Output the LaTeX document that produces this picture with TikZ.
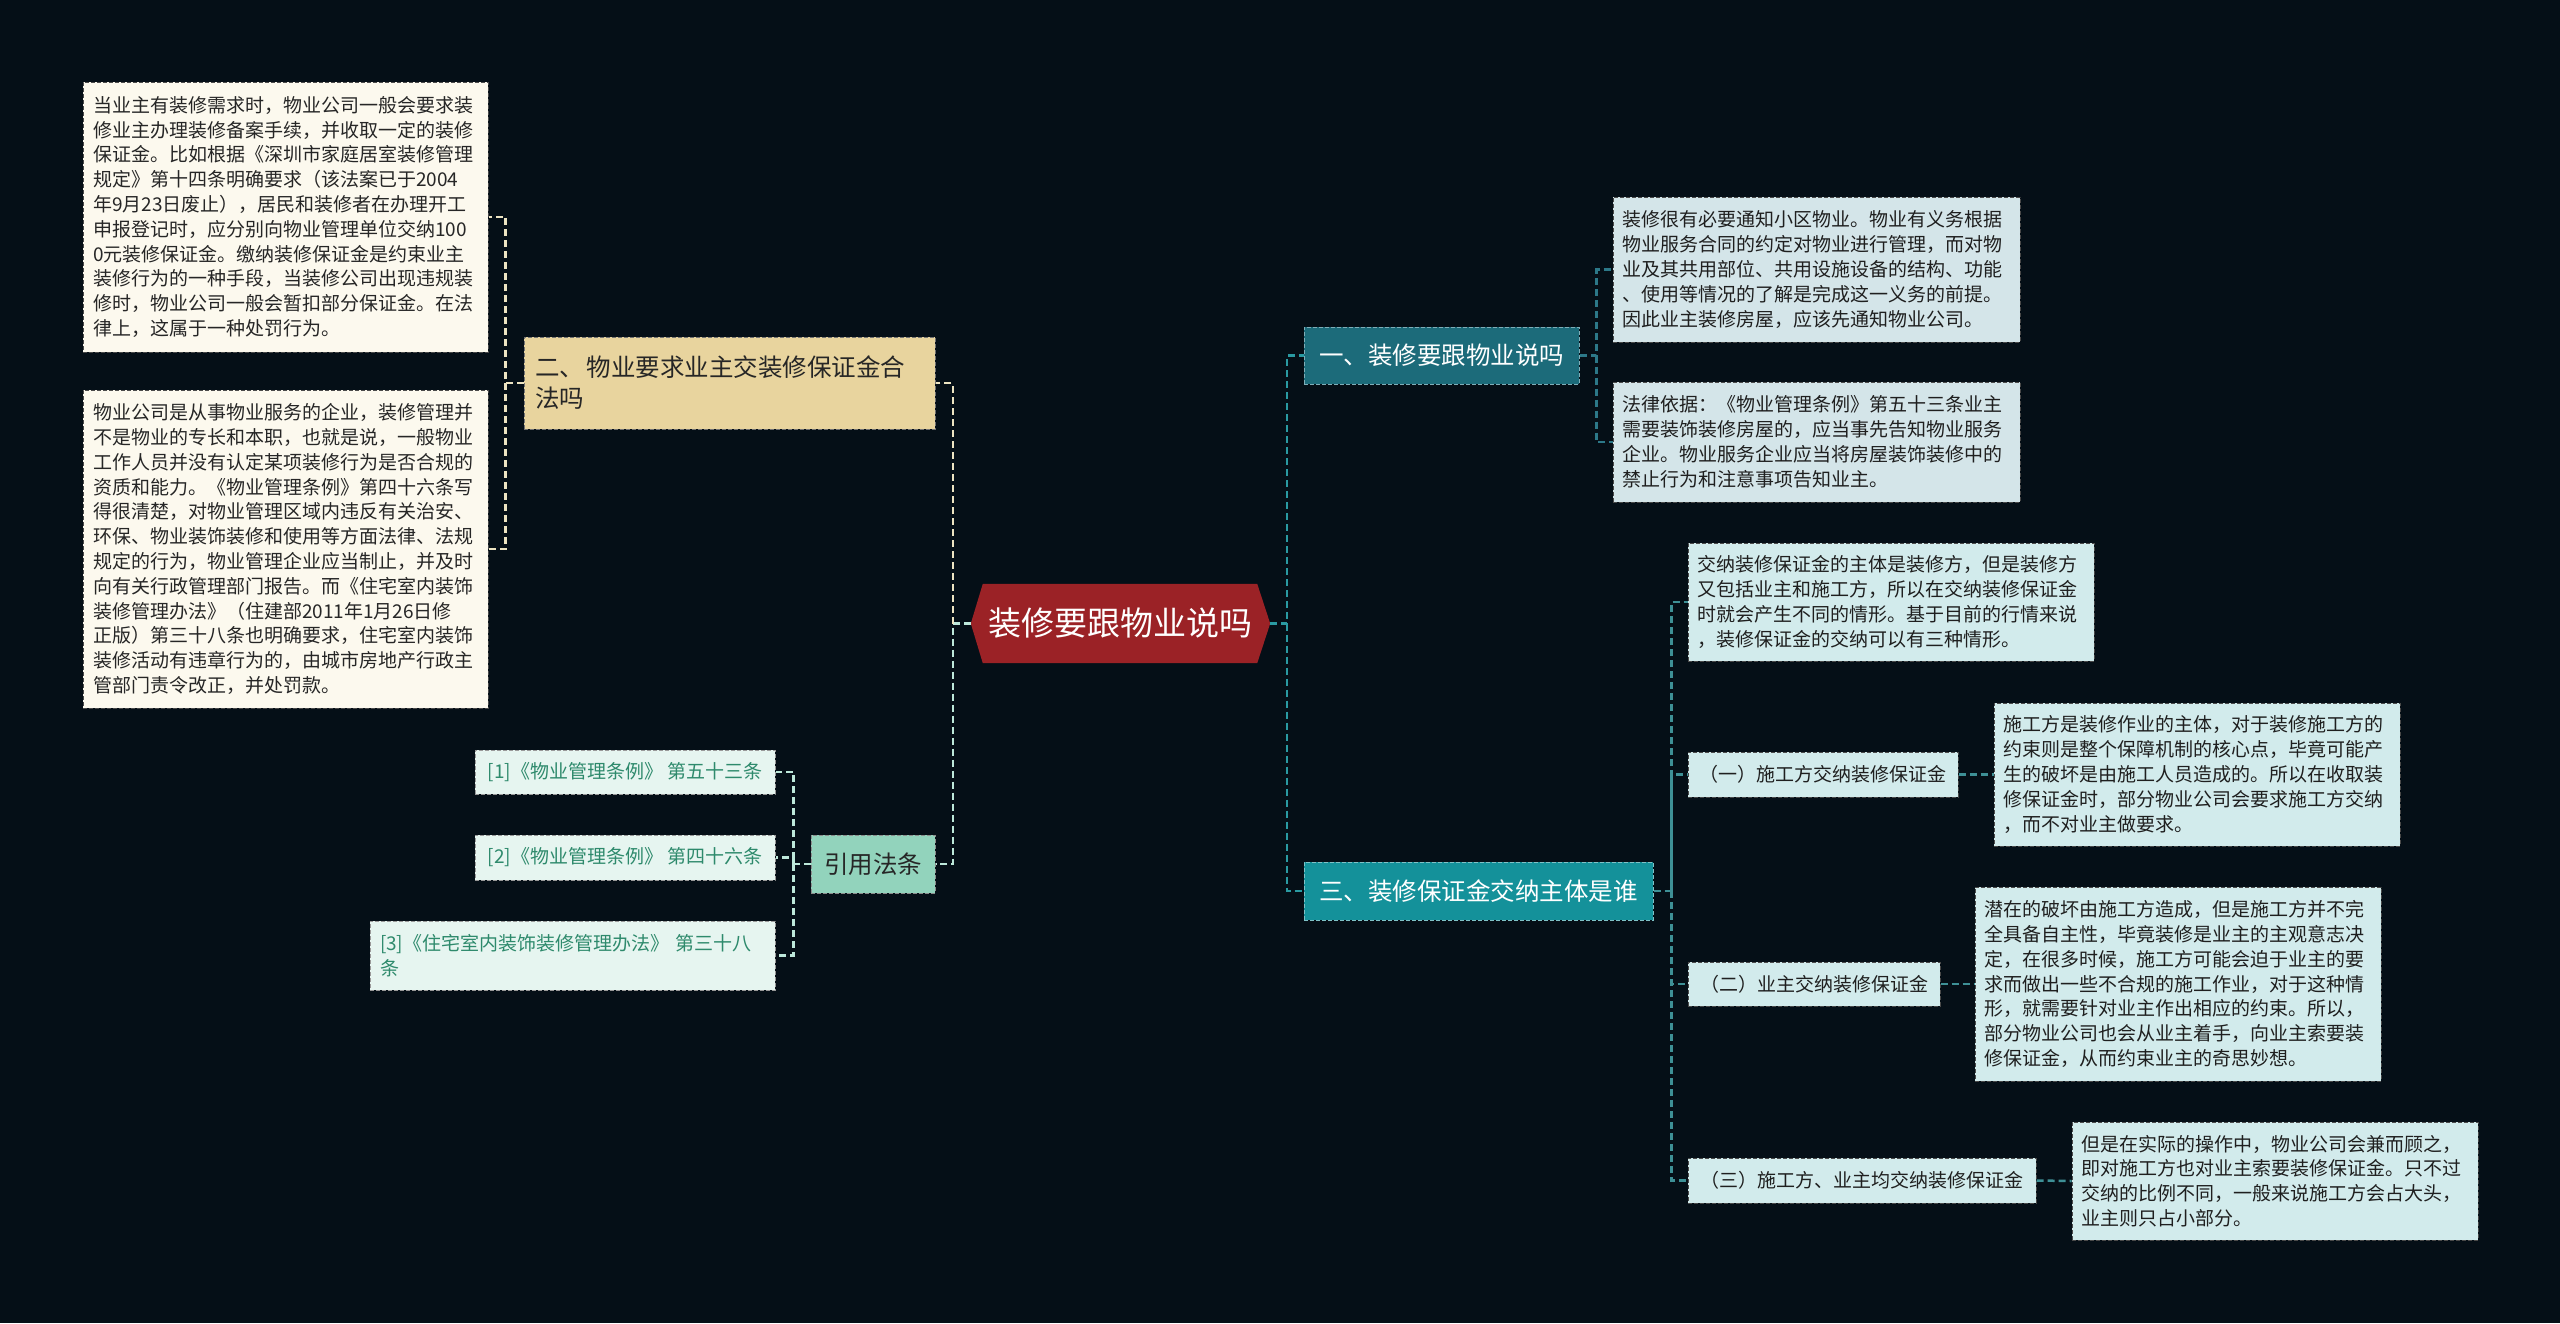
\documentclass[tikz,border=0pt]{standalone}
\usepackage{fontspec}
\setmainfont{Noto Sans CJK SC}
\usetikzlibrary{calc}
\pgfdeclarelayer{bg}
\pgfsetlayers{bg,main}
\definecolor{bgc}{HTML}{050F17}
\definecolor{ctrred}{HTML}{9B2226}
\definecolor{lfill}{HTML}{FCF9EE}
\definecolor{twofill}{HTML}{E8D49E}
\definecolor{yyfill}{HTML}{92D3BC}
\definecolor{reffill}{HTML}{E6F5F0}
\definecolor{reftext}{HTML}{2E8A6C}
\definecolor{onefill}{HTML}{1C6B7A}
\definecolor{onelf}{HTML}{D4E5E9}
\definecolor{threefill}{HTML}{14919A}
\definecolor{threelf}{HTML}{D2EBEC}
\definecolor{creamc}{HTML}{EDE4C2}
\definecolor{mintc}{HTML}{BDE8DA}
\definecolor{tealA}{HTML}{2C7888}
\definecolor{tealB}{HTML}{2A9AA2}
\definecolor{tealC}{HTML}{3E9096}
\definecolor{darktext}{HTML}{262626}
\definecolor{bord}{HTML}{4A4A4A}
\tikzset{
  conn/.style={line width=2.5pt, dash pattern=on 7pt off 4pt},
  boxbase/.style={rectangle, dash pattern=on 4pt off 2pt, line width=1pt, inner ysep=0pt, anchor=center},
  leafL/.style={boxbase, draw=bord, fill=lfill, text=darktext, align=left, inner xsep=10pt,
    font=\fontsize{19}{24.8}\selectfont},
  leafR/.style={boxbase, draw=bord, fill=onelf, text=black!88, align=left, inner xsep=9pt,
    font=\fontsize{19}{24.8}\selectfont},
  leafT/.style={leafR, fill=threelf},
  subbox/.style={boxbase, draw=bord, fill=threelf, text=black!88, inner xsep=8pt,
    font=\fontsize{19}{24}\selectfont},
  refbox/.style={boxbase, draw=black!40, fill=reffill, text=reftext, align=left, inner xsep=11pt,
    font=\fontsize{19}{24.8}\selectfont},
  topic/.style={boxbase, font=\fontsize{24.5}{31}\selectfont},
  ctrnode/.style={rectangle, inner sep=0pt, text=white, font=\fontsize{33}{38}\selectfont}
}
\begin{document}
\begin{tikzpicture}[x=1pt,y=-1pt]
\begin{pgfonlayer}{bg}
\fill[bgc] (0,0) rectangle (2560,1323);
\end{pgfonlayer}
\useasboundingbox (0,0) rectangle (2560,1323);

% centre
\node[ctrnode, minimum width=299pt, minimum height=79pt] (c) at (1120.5,623.5) {装修要跟物业说吗};
\begin{pgfonlayer}{bg}
\fill[ctrred] ($(c.north west)+(12,0)$) -- ($(c.north east)+(-13,0)$) -- (c.east)
  -- ($(c.south east)+(-13,0)$) -- ($(c.south west)+(12,0)$) -- (c.west) -- cycle;
\end{pgfonlayer}

% left-upper branch
\node[topic, draw=black!55, fill=twofill, text=darktext, align=left, inner xsep=11pt,
  text width=389pt, minimum height=92pt] (n2) at (729.5,383)
  {二、\hspace{3pt}物业要求业主交装修保证金合\\法吗};
\node[leafL, text width=385pt, minimum height=270pt] (l1) at (285.5,217)
  {当业主有装修需求时，物业公司一般会要求装\\
   修业主办理装修备案手续，并收取一定的装修\\
   保证金。比如根据《深圳市家庭居室装修管理\\
   规定》第十四条明确要求（该法案已于2004\\
   年9月23日废止），居民和装修者在办理开工\\
   申报登记时，应分别向物业管理单位交纳100\\
   0元装修保证金。缴纳装修保证金是约束业主\\
   装修行为的一种手段，当装修公司出现违规装\\
   修时，物业公司一般会暂扣部分保证金。在法\\
   律上，这属于一种处罚行为。};
\node[leafL, text width=385pt, minimum height=318pt] (l2) at (285.5,549)
  {物业公司是从事物业服务的企业，装修管理并\\
   不是物业的专长和本职，也就是说，一般物业\\
   工作人员并没有认定某项装修行为是否合规的\\
   资质和能力。《物业管理条例》第四十六条写\\
   得很清楚，对物业管理区域内违反有关治安、\\
   环保、物业装饰装修和使用等方面法律、法规\\
   规定的行为，物业管理企业应当制止，并及时\\
   向有关行政管理部门报告。而《住宅室内装饰\\
   装修管理办法》（住建部2011年1月26日修\\
   正版）第三十八条也明确要求，住宅室内装饰\\
   装修活动有违章行为的，由城市房地产行政主\\
   管部门责令改正，并处罚款。};

% left-lower branch
\node[topic, draw=black!45, fill=yyfill, text=darktext, minimum width=124pt, minimum height=58pt]
  (yy) at (873,864) {引用法条};
\node[refbox, minimum width=300pt, minimum height=44pt] (r1) at (625,772)
  {[1]《物业管理条例》 第五十三条};
\node[refbox, minimum width=300pt, minimum height=45pt] (r2) at (625,857.5)
  {[2]《物业管理条例》 第四十六条};
\node[refbox, inner xsep=10pt, text width=385pt, minimum height=69pt] (r3) at (572.5,955.5)
  {[3]《住宅室内装饰装修管理办法》 第三十八\\条};

% right-upper branch
\node[topic, draw=tealA!60!white, fill=onefill, text=white, minimum width=275pt, minimum height=57pt]
  (n1) at (1441.5,355.5) {一、装修要跟物业说吗};
\node[leafR, text width=389pt, minimum height=145pt] (l1a) at (1816.5,269.5)
  {装修很有必要通知小区物业。物业有义务根据\\
   物业服务合同的约定对物业进行管理，而对物\\
   业及其共用部位、共用设施设备的结构、功能\\
   、使用等情况的了解是完成这一义务的前提。\\
   因此业主装修房屋，应该先通知物业公司。};
\node[leafR, text width=389pt, minimum height=120pt] (l1b) at (1816.5,442)
  {法律依据：《物业管理条例》第五十三条业主\\
   需要装饰装修房屋的，应当事先告知物业服务\\
   企业。物业服务企业应当将房屋装饰装修中的\\
   禁止行为和注意事项告知业主。};

% right-lower branch
\node[topic, draw=tealB!60!white, fill=threefill, text=white, minimum width=349pt, minimum height=58pt]
  (n3) at (1478.5,891) {三、装修保证金交纳主体是谁};
\node[leafT, text width=388pt, minimum height=118pt] (l3a) at (1891,602)
  {交纳装修保证金的主体是装修方，但是装修方\\
   又包括业主和施工方，所以在交纳装修保证金\\
   时就会产生不同的情形。基于目前的行情来说\\
   ，装修保证金的交纳可以有三种情形。};
\node[subbox, minimum width=270pt, minimum height=45pt] (s1) at (1823,774.5)
  {（一）施工方交纳装修保证金};
\node[leafT, text width=388pt, minimum height=143pt] (s1l) at (2197,774.5)
  {施工方是装修作业的主体，对于装修施工方的\\
   约束则是整个保障机制的核心点，毕竟可能产\\
   生的破坏是由施工人员造成的。所以在收取装\\
   修保证金时，部分物业公司会要求施工方交纳\\
   ，而不对业主做要求。};
\node[subbox, minimum width=252pt, minimum height=44pt] (s2) at (1814,984)
  {（二）业主交纳装修保证金};
\node[leafT, text width=388pt, minimum height=194pt] (s2l) at (2178,984)
  {潜在的破坏由施工方造成，但是施工方并不完\\
   全具备自主性，毕竟装修是业主的主观意志决\\
   定，在很多时候，施工方可能会迫于业主的要\\
   求而做出一些不合规的施工作业，对于这种情\\
   形，就需要针对业主作出相应的约束。所以，\\
   部分物业公司也会从业主着手，向业主索要装\\
   修保证金，从而约束业主的奇思妙想。};
\node[subbox, minimum width=348pt, minimum height=45pt] (s3) at (1862,1180.5)
  {（三）施工方、业主均交纳装修保证金};
\node[leafT, text width=388pt, minimum height=118pt] (s3l) at (2275,1181)
  {但是在实际的操作中，物业公司会兼而顾之，\\
   即对施工方也对业主索要装修保证金。只不过\\
   交纳的比例不同，一般来说施工方会占大头，\\
   业主则只占小部分。};

% connectors
\draw[conn, mintc] (c.west) -- ++(-18,0) |- (yy.east);
\draw[conn, creamc] (c.west) ++(-18,0) |- (n2.east);
\draw[conn, creamc] (n2.west) -- ++(-18,0) |- (l1.east);
\draw[conn, creamc] (n2.west) ++(-18,0) |- (l2.east);
\draw[conn, mintc] (yy.west) -- ++(-17,0) |- (r1.east);
\draw[conn, mintc] (yy.west) ++(-17,0) |- (r2.east);
\draw[conn, mintc] (yy.west) ++(-17,0) |- (r3.east);

\draw[conn, tealB] (c.east) -- ++(17,0) |- (n1.west);
\draw[conn, tealB] (c.east) ++(17,0) |- (n3.west);
\draw[conn, tealA] (n1.east) -- ++(17,0) |- (l1a.west);
\draw[conn, tealA] (n1.east) ++(17,0) |- (l1b.west);
\draw[conn, tealC] (n3.east) -- ++(18,0) |- (l3a.west);
\draw[conn, tealC] (n3.east) ++(18,0) |- (s1.west);
\draw[conn, tealC] (n3.east) ++(18,0) |- (s2.west);
\draw[conn, tealC] (n3.east) ++(18,0) |- (s3.west);
\draw[conn, tealC] (s1.east) -- (s1l.west);
\draw[conn, tealC] (s2.east) -- (s2l.west);
\draw[conn, tealC] (s3.east) -- (s3l.west);
\end{tikzpicture}
\end{document}
